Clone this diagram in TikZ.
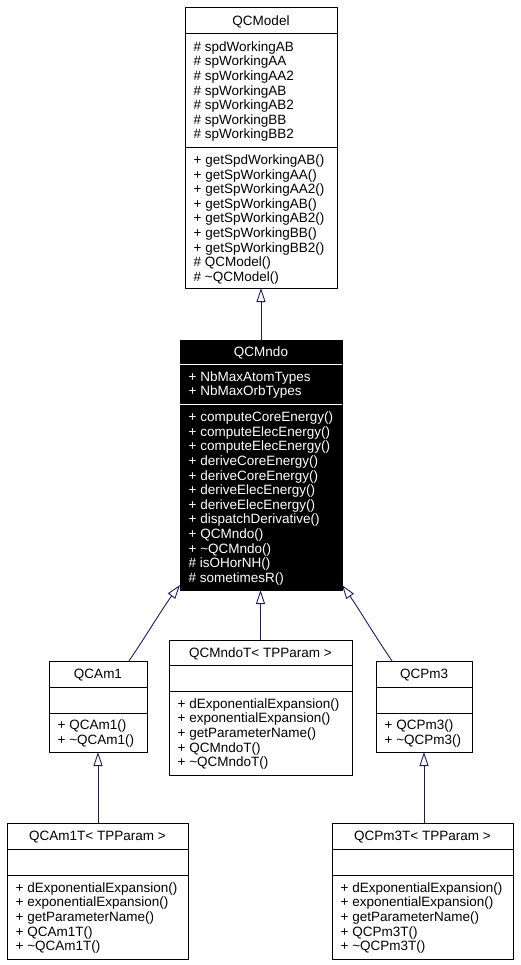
\documentclass[tikz,border=0pt]{standalone}
\usepackage{fontspec}
\setmainfont{Liberation Sans}
\usetikzlibrary{arrows.meta}
\definecolor{edgeblue}{HTML}{191970}
\tikzset{
  box/.style={draw=black, line width=1pt, fill=white, inner sep=0pt, outer sep=0pt, anchor=north west},
  invbox/.style={box, fill=black},
  sepline/.style={draw=black, line width=1pt},
  invsep/.style={draw=white, line width=1pt},
  txt/.style={anchor=base west, inner sep=0pt, font=\fontsize{13.5}{14.6}\selectfont},
  ttl/.style={anchor=base, inner sep=0pt, font=\fontsize{13.5}{14.6}\selectfont},
  inh/.style={draw=edgeblue, line width=0.9pt, -{Triangle[open, length=14pt, width=9pt, line width=0.9pt]}}
}
\begin{document}
\begin{tikzpicture}[x=1pt,y=-1pt]
\fill[white] (0,0) rectangle (520,965);
\useasboundingbox (0,0) rectangle (520,965);

% ---------- QCModel ----------
\node[box, minimum width=152pt, minimum height=280pt] (qcmodel) at (185,8) {};
\draw[sepline] (qcmodel.west |- 0,34) -- (qcmodel.east |- 0,34);
\draw[sepline] (qcmodel.west |- 0,148) -- (qcmodel.east |- 0,148);
\node[ttl] (qcmodel-t) at (261,25.5) {QCModel};
\foreach \t [count=\i from 0] in {\# spdWorkingAB,\# spWorkingAA,\# spWorkingAA2,\# spWorkingAB,\# spWorkingAB2,\# spWorkingBB,\# spWorkingBB2}
  \node[txt] (qcmodel-a\i) at (193.5,{51.3+\i*14.6}) {\t};
\foreach \t [count=\i from 0] in {+ getSpdWorkingAB(),+ getSpWorkingAA(),+ getSpWorkingAA2(),+ getSpWorkingAB(),+ getSpWorkingAB2(),+ getSpWorkingBB(),+ getSpWorkingBB2(),\# QCModel(),\# \textasciitilde QCModel()}
  \node[txt] (qcmodel-m\i) at (193.5,{164.5+\i*14.6}) {\t};

% ---------- QCMndo ----------
\node[invbox, minimum width=162pt, minimum height=250pt] (qcmndo) at (180,340) {};
\draw[invsep] (qcmndo.west |- 0,364) -- (qcmndo.east |- 0,364);
\draw[invsep] (qcmndo.west |- 0,404) -- (qcmndo.east |- 0,404);
\node[ttl, text=white] (qcmndo-t) at (261,356.5) {QCMndo};
\foreach \t [count=\i from 0] in {+ NbMaxAtomTypes,+ NbMaxOrbTypes}
  \node[txt, text=white] (qcmndo-a\i) at (188.5,{381.2+\i*14.6}) {\t};
\foreach \t [count=\i from 0] in {+ computeCoreEnergy(),+ computeElecEnergy(),+ computeElecEnergy(),+ deriveCoreEnergy(),+ deriveCoreEnergy(),+ deriveElecEnergy(),+ deriveElecEnergy(),+ dispatchDerivative(),+ QCMndo(),+ \textasciitilde QCMndo(),\# isOHorNH(),\# sometimesR()}
  \node[txt, text=white] (qcmndo-m\i) at (188.5,{421.7+\i*14.6}) {\t};

% ---------- QCAm1 ----------
\node[box, minimum width=98pt, minimum height=91pt] (qcam1) at (49,661) {};
\draw[sepline] (qcam1.west |- 0,687) -- (qcam1.east |- 0,687);
\draw[sepline] (qcam1.west |- 0,713) -- (qcam1.east |- 0,713);
\node[ttl] (qcam1-t) at (98,678.5) {QCAm1};
\foreach \t [count=\i from 0] in {+ QCAm1(),+ \textasciitilde QCAm1()}
  \node[txt] (qcam1-m\i) at (57.5,{729.7+\i*14.6}) {\t};

% ---------- QCMndoT ----------
\node[box, minimum width=183pt, minimum height=135pt] (qcmndot) at (169,640) {};
\draw[sepline] (qcmndot.west |- 0,665) -- (qcmndot.east |- 0,665);
\draw[sepline] (qcmndot.west |- 0,691) -- (qcmndot.east |- 0,691);
\node[ttl] (qcmndot-t) at (260.5,657) {QCMndoT< TPParam >};
\foreach \t [count=\i from 0] in {+ dExponentialExpansion(),+ exponentialExpansion(),+ getParameterName(),+ QCMndoT(),+ \textasciitilde QCMndoT()}
  \node[txt] (qcmndot-m\i) at (177.5,{708.3+\i*14.6}) {\t};

% ---------- QCPm3 ----------
\node[box, minimum width=96pt, minimum height=91pt] (qcpm3) at (376,661) {};
\draw[sepline] (qcpm3.west |- 0,687) -- (qcpm3.east |- 0,687);
\draw[sepline] (qcpm3.west |- 0,713) -- (qcpm3.east |- 0,713);
\node[ttl] (qcpm3-t) at (424,678.5) {QCPm3};
\foreach \t [count=\i from 0] in {+ QCPm3(),+ \textasciitilde QCPm3()}
  \node[txt] (qcpm3-m\i) at (384.5,{729.7+\i*14.6}) {\t};

% ---------- QCAm1T ----------
\node[box, minimum width=181pt, minimum height=136pt] (qcam1t) at (7,823) {};
\draw[sepline] (qcam1t.west |- 0,849) -- (qcam1t.east |- 0,849);
\draw[sepline] (qcam1t.west |- 0,875) -- (qcam1t.east |- 0,875);
\node[ttl] (qcam1t-t) at (97.5,840.5) {QCAm1T< TPParam >};
\foreach \t [count=\i from 0] in {+ dExponentialExpansion(),+ exponentialExpansion(),+ getParameterName(),+ QCAm1T(),+ \textasciitilde QCAm1T()}
  \node[txt] (qcam1t-m\i) at (15.5,{892.3+\i*14.6}) {\t};

% ---------- QCPm3T ----------
\node[box, minimum width=181pt, minimum height=136pt] (qcpm3t) at (332,823) {};
\draw[sepline] (qcpm3t.west |- 0,849) -- (qcpm3t.east |- 0,849);
\draw[sepline] (qcpm3t.west |- 0,875) -- (qcpm3t.east |- 0,875);
\node[ttl] (qcpm3t-t) at (422.5,840.5) {QCPm3T< TPParam >};
\foreach \t [count=\i from 0] in {+ dExponentialExpansion(),+ exponentialExpansion(),+ getParameterName(),+ QCPm3T(),+ \textasciitilde QCPm3T()}
  \node[txt] (qcpm3t-m\i) at (340.5,{892.3+\i*14.6}) {\t};

% ---------- inheritance edges ----------
\coordinate (am1start) at (129,661);
\coordinate (am1tip) at (180,585);
\coordinate (pm3start) at (392,661);
\coordinate (pm3tip) at (342,585);

\draw[inh] (qcmndo.north -| qcmodel.south) -- (qcmodel.south);
\draw[inh] (qcmndot.north) -- (qcmndot.north |- qcmndo.south);
\draw[inh] (am1start) .. controls (146,636) and (164,606) .. (am1tip);
\draw[inh] (pm3start) .. controls (375,636) and (357,606) .. (pm3tip);
\draw[inh] (qcam1t.north -| qcam1.south) -- (qcam1.south);
\draw[inh] (qcpm3t.north -| qcpm3.south) -- (qcpm3.south);
\end{tikzpicture}
\end{document}
